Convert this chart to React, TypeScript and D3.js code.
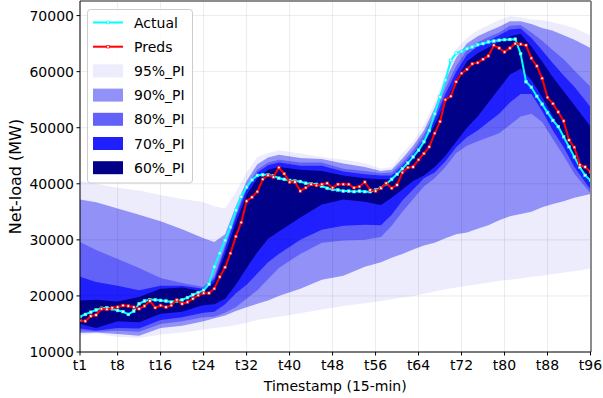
import React from 'react';
import * as d3 from 'd3';

// point forecasts, one value per 15-min step t1..t96 (MW)
const actual = [
  16300, 16700, 17100, 17500, 17800, 17900, 17700, 17400, 17200, 16700, 17300, 18600,
  19100, 19300, 19300, 19200, 19100, 18900, 19100, 19300, 19700, 20200, 20600, 21000,
  22100, 25200, 27600, 29900, 32300, 35300, 37700, 39400, 40700, 41500, 41600, 41600,
  41400, 41000, 40800, 40600, 40500, 40400, 40100, 40000, 39900, 39600, 39200, 39000,
  38900, 38700, 38700, 38600, 38700, 38600, 38600, 38900, 39300, 40000, 40800, 41700,
  42700, 43700, 44800, 46000, 47500, 49500, 52500, 55500, 58500, 62000, 63300, 63600,
  64100, 64400, 64800, 65000, 65300, 65450, 65600, 65700, 65750, 65800, 63200, 58200,
  57200, 55600, 54200, 52700, 51300, 50200, 48400, 46600, 44800, 43000, 41500, 40600,
];

const preds = [
  15600, 15500, 16400, 16600, 17700, 17600, 17900, 18000, 18300, 18200, 18000, 17700,
  18200, 19100, 17900, 18300, 18000, 18300, 19300, 18600, 18900, 19500, 20100, 20500,
  20500, 21300, 23400, 25100, 27600, 30600, 33100, 36900, 37600, 38600, 40800, 41500,
  41200, 42900, 41800, 40300, 40300, 38700, 39300, 39900, 39700, 39900, 40100, 39300,
  39900, 39900, 39900, 39300, 39500, 40300, 38900, 38700, 39200, 40100, 39200, 39800,
  42000, 42900, 43000, 44300, 45400, 46600, 49000, 51100, 55000, 55600, 58200, 59700,
  60400, 61400, 61600, 62200, 62800, 64700, 64200, 63500, 64200, 65000, 64900, 64700,
  62400, 61000, 58800, 55400, 54300, 52800, 51200, 47800, 46500, 43400, 43000, 42100,
];

// prediction interval bounds, read at these steps
const bandT = [1, 4, 8, 12, 16, 20, 24, 26, 28, 30, 32, 34, 36, 38, 42, 46, 50, 54, 57, 59, 61, 63, 65, 67, 69, 71, 73, 75, 77, 79, 81, 83, 85, 87, 89, 91, 93, 96];

const u95 = [40500, 40000, 39300, 38800, 38000, 37300, 36700, 36000, 35600, 38500, 42000, 44800, 45500, 46000, 45400, 44800, 44300, 43700, 42700, 43000, 45500, 47500, 50500, 54500, 59500, 64000, 66000, 67400, 68300, 69200, 69900, 69700, 69300, 69200, 68800, 68300, 67800, 66500];
const l95 = [13000, 13300, 12700, 12500, 13100, 13500, 14000, 14300, 14500, 14800, 15200, 15700, 16000, 16300, 16900, 17600, 18200, 18700, 19100, 19400, 19700, 20000, 20400, 20800, 21200, 21500, 21800, 22100, 22400, 22700, 22900, 23100, 23400, 23600, 23900, 24200, 24400, 24900];
const u90 = [37200, 36700, 35600, 34500, 33300, 31900, 30300, 29600, 31000, 36000, 40500, 43500, 44700, 45200, 44600, 44400, 43600, 43000, 42300, 42500, 44500, 46800, 49500, 53500, 58500, 62500, 65000, 66300, 67200, 68000, 69000, 69000, 68500, 67800, 67300, 66500, 65700, 64200];
const l90 = [13400, 13500, 13200, 12900, 14300, 14700, 15500, 16000, 16500, 17300, 18000, 18600, 19200, 20000, 21300, 22900, 23600, 25200, 26000, 26800, 27500, 28300, 29000, 29500, 30300, 31000, 31300, 32000, 32600, 33500, 34200, 34600, 35000, 35800, 36400, 36900, 37500, 38200];
const u80 = [29600, 28200, 26600, 25000, 23200, 22300, 21600, 23500, 29000, 34500, 39500, 42500, 43800, 44300, 43800, 43800, 42700, 42300, 41900, 42000, 43800, 46000, 48800, 52500, 57000, 61000, 63800, 65200, 66200, 67000, 68200, 68300, 67000, 65500, 63800, 62200, 60200, 57300];
const l80 = [13700, 13600, 13800, 13600, 15000, 15500, 16200, 16300, 17000, 18000, 19500, 21000, 23000, 25000, 27500, 29500, 29900, 30000, 30500, 32500, 35000, 37300, 39500, 41000, 43000, 45500, 46800, 47600, 48300, 49000, 50500, 52000, 52500, 51000, 48000, 45000, 41800, 38300];
const u70 = [23400, 22500, 21800, 21000, 21800, 21800, 21300, 23000, 28500, 34000, 39000, 42000, 43300, 43800, 43200, 43200, 42200, 41700, 41500, 41500, 43200, 45300, 48000, 51500, 56000, 60000, 63000, 64500, 65500, 66500, 67500, 67700, 66000, 63800, 61500, 59300, 57300, 53700];
const l70 = [14200, 13800, 14300, 14200, 15700, 16200, 17000, 17200, 18500, 20500, 22000, 24000, 26000, 27500, 30000, 31800, 32500, 32700, 32600, 34500, 37000, 39000, 41000, 42000, 44000, 46500, 48300, 49500, 51000, 52500, 54500, 56000, 56000, 53000, 49500, 46500, 43000, 39000];
const u60 = [19200, 19300, 19000, 19800, 21300, 21500, 20800, 22500, 27500, 33000, 38000, 41000, 42500, 43000, 42500, 42300, 41500, 41000, 40800, 40800, 42300, 44500, 47000, 50500, 54500, 58500, 61800, 63300, 64300, 65300, 66300, 66700, 64500, 61800, 59000, 56500, 54000, 50200];
const l60 = [15000, 14300, 15500, 15300, 16800, 17200, 18400, 18500, 19500, 22000, 25000, 27800, 30200, 31500, 34000, 36300, 37200, 36800, 36200, 37500, 39000, 40500, 41500, 43000, 45000, 47500, 50000, 52000, 54500, 57000, 59500, 60500, 58500, 55500, 52000, 48500, 44800, 40000];

const bandNames = ['95%_PI', '90%_PI', '80%_PI', '70%_PI', '60%_PI'];
const bandColors = ['#ececfd', '#9191f8', '#6262f8', '#2020fe', '#000088'];

const tickSteps = [1, 8, 16, 24, 32, 40, 48, 56, 64, 72, 80, 88, 96];
const yTicks = [10000, 20000, 30000, 40000, 50000, 60000, 70000];

const W = 603;
const H = 398;
const L = 80, R = 590.5, T = 1, B = 352;
const FONT = 'DejaVu Sans, sans-serif';

export default function App() {
  const x = d3.scaleLinear().domain([1, 96]).range([L, R]);
  const y = d3.scaleLinear().domain([10000, 72600]).range([B, T]);

  const bands = [
    { lo: l95, hi: u95 },
    { lo: l90, hi: u90 },
    { lo: l80, hi: u80 },
    { lo: l70, hi: u70 },
    { lo: l60, hi: u60 },
  ];

  const area = (lo: number[], hi: number[]) =>
    d3.area<number>()
      .x((_, i) => x(bandT[i]))
      .y0((_, i) => y(lo[i]))
      .y1((_, i) => y(hi[i]))(bandT) as string;

  const line = d3.line<number>().x((_, i) => x(i + 1)).y(d => y(d));

  const series = [
    { name: 'Actual', data: actual, color: '#00ffff' },
    { name: 'Preds', data: preds, color: '#ff0000' },
  ];

  const legendRow = (i: number) => 22.5 + i * 24.2;

  return (
    <svg width={W} height={H} style={{ position: 'absolute', left: 0, top: 0, background: '#fff' }} fontFamily={FONT}>
      <defs>
        <clipPath id="plot">
          <rect x={L} y={T} width={R - L} height={B - T} />
        </clipPath>
      </defs>

      <g clipPath="url(#plot)">
        {bands.map((b, i) => (
          <path key={i} d={area(b.lo, b.hi)} fill={bandColors[i]} />
        ))}
      </g>

      {/* grid */}
      <g stroke="#000" strokeOpacity={0.08} strokeWidth={1}>
        {tickSteps.map(t => (
          <line key={'gx' + t} x1={x(t)} x2={x(t)} y1={T} y2={B} />
        ))}
        {yTicks.map(v => (
          <line key={'gy' + v} x1={L} x2={R} y1={y(v)} y2={y(v)} />
        ))}
      </g>

      <g clipPath="url(#plot)">
        {series.map(s => (
          <g key={s.name}>
            <path d={line(s.data) as string} fill="none" stroke={s.color} strokeWidth={2} />
            {s.data.map((v, i) => (
              <rect key={i} x={x(i + 1) - 1.3} y={y(v) - 1.3} width={2.6} height={2.6}
                fill="#fff" stroke={s.color} strokeWidth={0.7} />
            ))}
          </g>
        ))}
      </g>

      {/* spines */}
      <line x1={L} x2={R + 0.5} y1={T} y2={T} stroke="#8c8c8c" strokeWidth={2} />
      <line x1={R + 0.5} x2={R + 0.5} y1={T} y2={B} stroke="#8c8c8c" strokeWidth={2} />
      <line x1={L} x2={L} y1={T} y2={B} stroke="#000" strokeWidth={1} />
      <line x1={L} x2={R + 0.5} y1={B} y2={B} stroke="#000" strokeWidth={1} />

      {/* y axis */}
      {yTicks.map(v => (
        <g key={'yt' + v}>
          <line x1={L - 3.5} x2={L} y1={y(v)} y2={y(v)} stroke="#000" />
          <text x={L - 6} y={y(v)} dy="0.36em" textAnchor="end" fontSize={14} fill="#000">{v}</text>
        </g>
      ))}
      {/* x axis */}
      {tickSteps.map(t => (
        <g key={'xt' + t}>
          <line x1={x(t)} x2={x(t)} y1={B} y2={B + 3.5} stroke="#000" />
          <text x={x(t)} y={B + 7} dy="0.76em" textAnchor="middle" fontSize={14} fill="#000">{'t' + t}</text>
        </g>
      ))}
      <text x={(L + R) / 2} y={391} textAnchor="middle" fontSize={14} fill="#000">Timestamp (15-min)</text>
      <text transform={`translate(15,${(T + B) / 2}) rotate(-90)`} textAnchor="middle" dy="0.36em" fontSize={16} fill="#000">Net-load (MW)</text>

      {/* legend */}
      <rect x={87.5} y={9.5} width={105} height={173.5} rx={3} fill="#fff" fillOpacity={0.8} stroke="#cccccc" />
      {series.map((s, i) => (
        <g key={'ls' + s.name}>
          <line x1={93} x2={123} y1={legendRow(i)} y2={legendRow(i)} stroke={s.color} strokeWidth={2} />
          <rect x={106.7} y={legendRow(i) - 1.3} width={2.6} height={2.6} fill="#fff" stroke={s.color} strokeWidth={0.7} />
          <text x={134} y={legendRow(i)} dy="0.36em" fontSize={14} fill="#000">{s.name}</text>
        </g>
      ))}
      {bandNames.map((n, i) => (
        <g key={'lb' + n}>
          <rect x={93} y={legendRow(i + 2) - 6.5} width={30} height={13} fill={bandColors[i]} />
          <text x={134} y={legendRow(i + 2)} dy="0.36em" fontSize={14} fill="#000">{n}</text>
        </g>
      ))}
    </svg>
  );
}
